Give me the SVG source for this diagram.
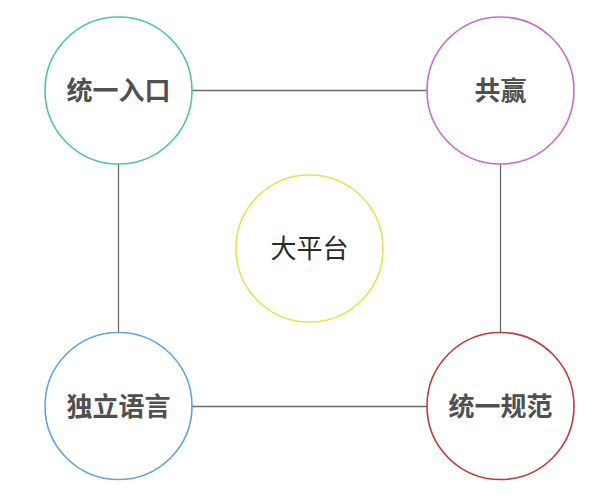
<svg xmlns="http://www.w3.org/2000/svg" width="605" height="498" viewBox="0 0 605 498">
<style>
.node{fill:#fff;stroke-width:1.6}
.lbl{font-family:"Noto Sans CJK SC","Liberation Sans",sans-serif;font-size:26px;font-weight:bold;fill:#505050;text-anchor:middle}
.lbl2{font-family:"Noto Sans CJK SC","Liberation Sans",sans-serif;font-size:26px;font-weight:normal;fill:#2a2a2a;text-anchor:middle}
.edge{stroke:#6a6a6a;stroke-width:1.3;fill:none}
</style>
<rect width="605" height="498" fill="#fff"/>
<g id="connectors">
<line class="edge" x1="192" y1="90.5" x2="427" y2="90.5"/>
<line class="edge" x1="192" y1="406.5" x2="427" y2="406.5"/>
<line class="edge" x1="118.5" y1="164" x2="118.5" y2="333"/>
<line class="edge" x1="500.5" y1="164" x2="500.5" y2="333"/>
</g>
<g id="node-tl">
<circle class="node" cx="118.5" cy="90.5" r="73.5" stroke="#4fc6a0"/>
<text class="lbl" x="118.5" y="100">统一入口</text>
</g>
<g id="node-tr">
<circle class="node" cx="500.5" cy="90.5" r="73.5" stroke="#c86cc8"/>
<text class="lbl" x="500.5" y="100">共赢</text>
</g>
<g id="node-center">
<circle class="node" cx="309.5" cy="248.5" r="73.5" stroke="#e9e24c"/>
<text class="lbl2" x="309.5" y="258">大平台</text>
</g>
<g id="node-bl">
<circle class="node" cx="118.5" cy="406" r="73.5" stroke="#62a2e0"/>
<text class="lbl" x="118.5" y="416">独立语言</text>
</g>
<g id="node-br">
<circle class="node" cx="500.5" cy="406" r="73.5" stroke="#c4373a"/>
<text class="lbl" x="500.5" y="416">统一规范</text>
</g>
</svg>
